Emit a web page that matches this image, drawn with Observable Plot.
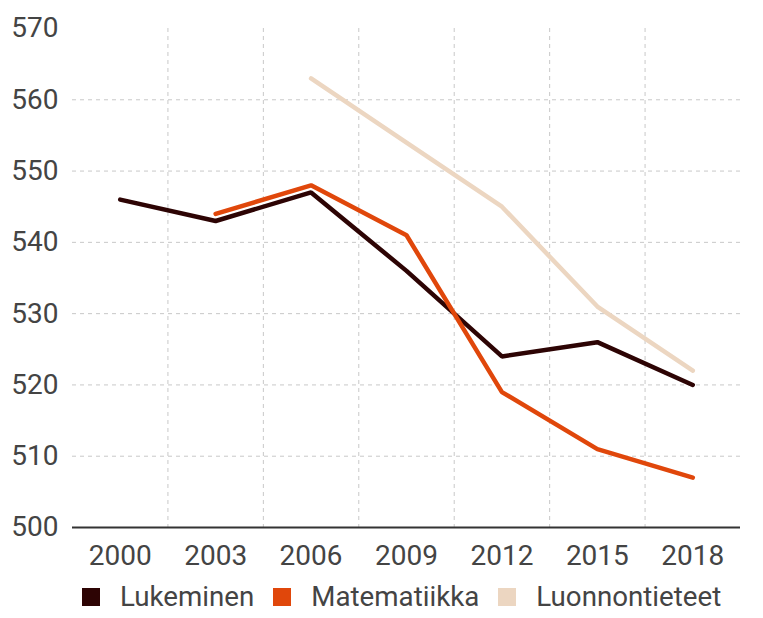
<!DOCTYPE html>
<html>
<head>
<meta charset="utf-8">
<script src="https://cdn.jsdelivr.net/npm/d3@7"></script>
<script src="https://cdn.jsdelivr.net/npm/@observablehq/plot@0.6"></script>
<style>
  body { margin: 0; background: #fff; font-family: Roboto, sans-serif; }
  #chart svg text { font-size: 28px; fill: #444; }
  #legend { display: flex; align-items: center; margin-left: 82px; margin-top: 5px; font-size: 27.7px; line-height: 34px; color: #444; }
  #legend .item { display: flex; align-items: center; margin-right: 19px; }
  #legend .sw { width: 18px; height: 18px; margin-right: 20px; }
</style>
</head>
<body>
<div id="chart"></div>
<div id="legend"></div>
<script>
const years = [2000, 2003, 2006, 2009, 2012, 2015, 2018];
const series = ["Lukeminen", "Matematiikka", "Luonnontieteet"];
const colors = ["#2d0404", "#e0470b", "#ecd6c1"];
const lukeminen = [546, 543, 547, 536, 524, 526, 520];
const matematiikka = [null, 544, 548, 541, 519, 511, 507];
const luonnontieteet = [null, null, 563, 554, 545, 531, 522];
const yTicks = [500, 510, 520, 530, 540, 550, 560, 570];

const valuesBySeries = [lukeminen, matematiikka, luonnontieteet];
const data = [];
series.forEach((s, i) => {
  years.forEach((yr, j) => {
    const v = valuesBySeries[i][j];
    if (v != null) data.push({series: s, year: yr, value: v});
  });
});
const step = years[1] - years[0];
const xDomain = [years[0] - step / 2, years[years.length - 1] + step / 2];
const xGrid = years.slice(0, -1).map(y => y + step / 2);
const yGrid = yTicks.filter(t => t !== yTicks[0] && t !== yTicks[yTicks.length - 1]);

const chart = Plot.plot({
  width: 763,
  height: 575,
  marginTop: 28,
  marginLeft: 72,
  marginRight: 23,
  marginBottom: 48,
  style: {fontFamily: "Roboto, sans-serif", fontSize: "28px", color: "#444", background: "#fff"},
  x: {domain: xDomain, ticks: years, tickFormat: d => String(d), tickSize: 0, tickPadding: 18, label: null},
  y: {domain: [yTicks[0], yTicks[yTicks.length - 1]], ticks: yTicks, tickFormat: d => String(d), tickSize: 0, tickPadding: 14, label: null},
  color: {domain: series, range: colors},
  marks: [
    Plot.ruleY(yGrid, {stroke: "#c8c8c8", strokeWidth: 1, strokeDasharray: "4,4"}),
    Plot.ruleX(xGrid, {stroke: "#c8c8c8", strokeWidth: 1, strokeDasharray: "4,4"}),
    Plot.ruleY([yTicks[0]], {stroke: "#333", strokeWidth: 2}),
    Plot.line(data, {x: "year", y: "value", z: "series", stroke: "series", strokeWidth: 4.5, strokeLinejoin: "miter", strokeLinecap: "round"})
  ]
});
document.getElementById("chart").appendChild(chart);

const legend = document.getElementById("legend");
series.forEach((s, i) => {
  const item = document.createElement("div");
  item.className = "item";
  const sw = document.createElement("div");
  sw.className = "sw";
  sw.style.background = colors[i];
  const t = document.createElement("span");
  t.textContent = s;
  item.appendChild(sw);
  item.appendChild(t);
  legend.appendChild(item);
});
</script>
</body>
</html>
